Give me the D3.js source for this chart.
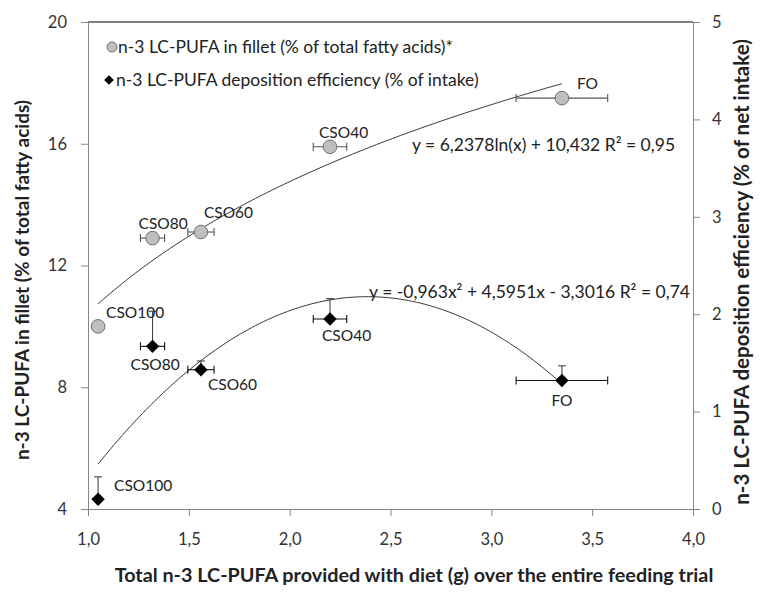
<!DOCTYPE html>
<html>
  <head>
    <meta charset="utf-8" />
    <script src="https://d3js.org/d3.v7.min.js"></script>
    <style>
      body { margin: 0; background: #fff; }
      svg text { font-family: "Lato", "Open Sans", sans-serif; fill: #222; }
      .axis path, .axis line { stroke: #868686; }
      .axis text { font-size: 16.5px; fill: #333; }
      .title { font-weight: bold; font-size: 19.8px; }
    </style>
  </head>
  <body>
    <svg width="761" height="597"></svg>
    <script>
      // diet groups and values
      const groups = ["CSO100", "CSO80", "CSO60", "CSO40", "FO"];
      const dietN3 = [1.05, 1.32, 1.56, 2.2, 3.35];       // x (g)
      const dietN3Err = [0, 0.06, 0.065, 0.083, 0.227];   // x error
      const fillet = [10.0, 12.9, 13.1, 15.9, 17.5];      // left axis
      const efficiency = [0.1, 1.67, 1.43, 1.95, 1.32];   // right axis
      const efficiencyErr = [0.23, 0.36, 0.09, 0.21, 0.15];

      const xTicks = [1, 1.5, 2, 2.5, 3, 3.5, 4];
      const leftTicks = [4, 8, 12, 16, 20];
      const rightTicks = [0, 1, 2, 3, 4, 5];

      // trendline coefficients (from the chart labels)
      const logFit = { a: 6.2378, b: 10.432 };
      const polyFit = { a: -0.963, b: 4.5951, c: -3.3016 };

      const svg = d3.select("svg");
      const margin = { top: 22, right: 68, bottom: 88, left: 88 };
      const width = +svg.attr("width") - margin.left - margin.right;
      const height = +svg.attr("height") - margin.top - margin.bottom;
      const g = svg.append("g")
        .attr("transform", "translate(" + margin.left + "," + margin.top + ")");

      const x = d3.scaleLinear().domain([1, 4]).range([0, width]);
      const yL = d3.scaleLinear().domain([4, 20]).range([height, 0]);
      const yR = d3.scaleLinear().domain([0, 5]).range([height, 0]);

      const comma = d => d3.format(".1f")(d).replace(".", ",");

      // top border
      g.append("line")
        .attr("x1", 0).attr("x2", width).attr("y1", 0).attr("y2", 0)
        .attr("stroke", "#000").attr("stroke-width", 1.2);

      g.append("g").attr("class", "axis")
        .attr("transform", "translate(0," + height + ")")
        .call(d3.axisBottom(x).tickValues(xTicks).tickFormat(comma).tickSize(7).tickSizeOuter(0).tickPadding(17));

      g.append("g").attr("class", "axis")
        .call(d3.axisLeft(yL).tickValues(leftTicks).tickFormat(d3.format("d")).tickSize(7).tickSizeOuter(0).tickPadding(14));

      g.append("g").attr("class", "axis")
        .attr("transform", "translate(" + width + ",0)")
        .call(d3.axisRight(yR).tickValues(rightTicks).tickFormat(d3.format("d")).tickSize(7).tickSizeOuter(0).tickPadding(12));

      // trendlines
      const xs = d3.range(dietN3[0], dietN3[4] + 0.001, 0.02);
      g.append("path")
        .datum(xs)
        .attr("fill", "none").attr("stroke", "#222").attr("stroke-width", 0.9)
        .attr("d", d3.line().x(d => x(d)).y(d => yL(logFit.a * Math.log(d) + logFit.b)));
      g.append("path")
        .datum(xs)
        .attr("fill", "none").attr("stroke", "#222").attr("stroke-width", 0.9)
        .attr("d", d3.line().x(d => x(d)).y(d => yR(polyFit.a * d * d + polyFit.b * d + polyFit.c)));

      const data = groups.map((name, i) => ({
        name, x: dietN3[i], xe: dietN3Err[i], f: fillet[i], e: efficiency[i], ee: efficiencyErr[i]
      }));

      // horizontal error bars
      function hBars(yScale, key, color) {
        const sel = g.append("g").selectAll("g").data(data.filter(d => d.xe > 0)).join("g")
          .attr("stroke", color).attr("stroke-width", 1.1);
        sel.append("line")
          .attr("x1", d => x(d.x - d.xe)).attr("x2", d => x(d.x + d.xe))
          .attr("y1", d => yScale(d[key])).attr("y2", d => yScale(d[key]));
        sel.append("line")
          .attr("x1", d => x(d.x - d.xe)).attr("x2", d => x(d.x - d.xe))
          .attr("y1", d => yScale(d[key]) - 4).attr("y2", d => yScale(d[key]) + 4);
        sel.append("line")
          .attr("x1", d => x(d.x + d.xe)).attr("x2", d => x(d.x + d.xe))
          .attr("y1", d => yScale(d[key]) - 4).attr("y2", d => yScale(d[key]) + 4);
      }
      hBars(yL, "f", "#555");
      hBars(yR, "e", "#111");

      // vertical error bars (efficiency)
      const vb = g.append("g").selectAll("g").data(data).join("g")
        .attr("stroke", "#444").attr("stroke-width", 1.1);
      vb.append("line")
        .attr("x1", d => x(d.x)).attr("x2", d => x(d.x))
        .attr("y1", d => yR(d.e)).attr("y2", d => yR(d.e + d.ee));
      vb.append("line")
        .attr("x1", d => x(d.x) - 4).attr("x2", d => x(d.x) + 4)
        .attr("y1", d => yR(d.e + d.ee)).attr("y2", d => yR(d.e + d.ee));

      // markers
      g.append("g").selectAll("circle").data(data).join("circle")
        .attr("cx", d => x(d.x)).attr("cy", d => yL(d.f)).attr("r", 6.8)
        .attr("fill", "#bfbfbf").attr("stroke", "#6f6f6f").attr("stroke-width", 1);

      const diamond = d3.symbol().type(d3.symbolDiamond2).size(115);
      g.append("g").selectAll("path").data(data).join("path")
        .attr("d", diamond)
        .attr("transform", d => "translate(" + x(d.x) + "," + yR(d.e) + ")")
        .attr("fill", "#000");

      // point labels (offsets in px)
      const filletLabelOff = [[8, -14], [-14, -15], [3, -19], [-11, -14], [15, -15]];
      const effLabelOff = [[16, -14], [-22, 18], [7, 15], [-8, 17], [0, 20]];
      const lab = g.append("g").style("font-size", "15.5px");
      data.forEach((d, i) => {
        lab.append("text")
          .attr("x", x(d.x) + filletLabelOff[i][0])
          .attr("y", yL(d.f) + filletLabelOff[i][1])
          .attr("dy", "0.35em")
          .text(d.name);
        lab.append("text")
          .attr("x", x(d.x) + effLabelOff[i][0])
          .attr("y", yR(d.e) + effLabelOff[i][1])
          .attr("dy", "0.35em")
          .attr("text-anchor", i === 4 ? "middle" : "start")
          .text(d.name);
      });

      // equations
      g.append("text").attr("x", 324).attr("y", 123).attr("dy", "0.35em")
        .style("font-size", "17.5px")
        .text("y = 6,2378ln(x) + 10,432 R² = 0,95");
      g.append("text").attr("x", 602).attr("y", 270).attr("dy", "0.35em")
        .attr("text-anchor", "end")
        .style("font-size", "17.5px")
        .text("y = -0,963x² + 4,5951x - 3,3016 R² = 0,74");

      // legend
      const leg = g.append("g").style("font-size", "17.5px");
      leg.append("circle").attr("cx", 24).attr("cy", 25).attr("r", 5)
        .attr("fill", "#bfbfbf").attr("stroke", "#6f6f6f");
      leg.append("text").attr("x", 30).attr("y", 25).attr("dy", "0.35em")
        .text("n-3 LC-PUFA in fillet (% of total fatty acids)*");
      leg.append("path").attr("d", d3.symbol().type(d3.symbolDiamond2).size(60))
        .attr("transform", "translate(21,58)").attr("fill", "#000");
      leg.append("text").attr("x", 28).attr("y", 58).attr("dy", "0.35em")
        .text("n-3 LC-PUFA deposition efficiency (% of intake)");

      // axis titles
      svg.append("text").attr("class", "title")
        .attr("x", 414).attr("y", 575).attr("dy", "0.35em")
        .attr("text-anchor", "middle")
        .text("Total n-3 LC-PUFA provided with diet (g) over the entire feeding trial");
      svg.append("text").attr("class", "title")
        .style("font-size", "19px")
        .attr("transform", "translate(22,280) rotate(-90)")
        .attr("dy", "0.35em").attr("text-anchor", "middle")
        .text("n-3 LC-PUFA in fillet (% of total fatty acids)");
      svg.append("text").attr("class", "title")
        .style("font-size", "20.5px")
        .attr("transform", "translate(742,272) rotate(-90)")
        .attr("dy", "0.35em").attr("text-anchor", "middle")
        .text("n-3 LC-PUFA deposition efficiency (% of net intake)");
    </script>
  </body>
</html>
